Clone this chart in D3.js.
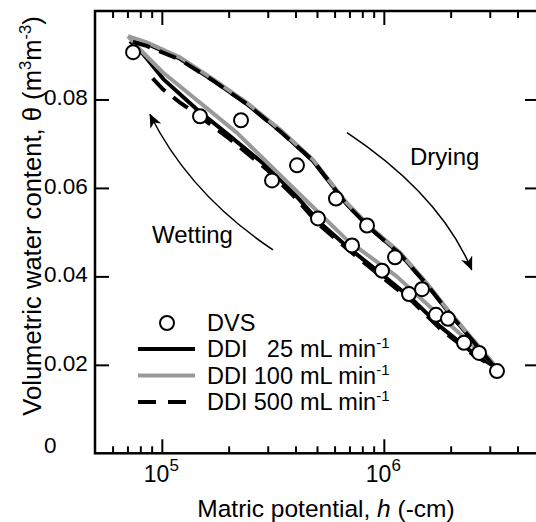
<!DOCTYPE html>
<html>
<head>
<meta charset="utf-8">
<script src="https://cdn.jsdelivr.net/npm/d3@7"></script>
<style>
body { margin: 0; background: #fff; }
text { font-family: "Liberation Sans", Arial, Helvetica, sans-serif; fill: #000; }
</style>
</head>
<body>
<div class="chart"></div>
<script>
// DVS points
const dvsH = [74200, 148600, 227300, 313600, 406300, 505100, 608800, 719000, 840100, 981300, 1123000, 1298000, 1486000, 1718000, 1945000, 2297000, 2684000, 3234000];
const dvsTheta = [0.0907, 0.0762, 0.0753, 0.0617, 0.0651, 0.0531, 0.0576, 0.0470, 0.0515, 0.0413, 0.0443, 0.0360, 0.0371, 0.0313, 0.0304, 0.0250, 0.0227, 0.0186];

// DDI 25 mL/min (black solid)
const d25DryH = [71900, 85500, 120800, 170000, 241200, 340700, 479700, 680500, 894000, 1183000, 1560000, 1987000, 2521000, 3236000];
const d25DryT = [0.0932, 0.0926, 0.0892, 0.0843, 0.0790, 0.0729, 0.0661, 0.0563, 0.0503, 0.0451, 0.0382, 0.0315, 0.0254, 0.0192];
const d25WetH = [3236000, 2521000, 1791000, 1353000, 960800, 680500, 515800, 389900, 296800, 202800, 143600, 101600, 82530, 71900];
const d25WetT = [0.0192, 0.0227, 0.0287, 0.0347, 0.0408, 0.0468, 0.0521, 0.0590, 0.0649, 0.0717, 0.0778, 0.0846, 0.0902, 0.0932];

// DDI 100 mL/min (grey)
const d100DryH = [70400, 85500, 120800, 170000, 241200, 340700, 479700, 680500, 894000, 1183000, 1560000, 1987000, 2521000, 3236000];
const d100DryT = [0.0943, 0.0929, 0.0895, 0.0846, 0.0793, 0.0732, 0.0664, 0.0566, 0.0506, 0.0454, 0.0385, 0.0318, 0.0257, 0.0193];
const d100WetH = [3236000, 2274000, 1665000, 1143000, 680500, 419100, 217500, 101200, 79740, 70400];
const d100WetT = [0.0193, 0.0264, 0.0325, 0.0400, 0.0483, 0.0585, 0.0725, 0.0861, 0.0913, 0.0943];

// DDI 500 mL/min (black dashed)
const d500DryH = [74000, 85500, 120800, 170000, 241200, 340700, 479700, 680500, 894000, 1183000, 1560000, 1987000, 2521000, 3150000];
const d500DryT = [0.0930, 0.0921, 0.0890, 0.0843, 0.0790, 0.0728, 0.0662, 0.0562, 0.0503, 0.0450, 0.0382, 0.0315, 0.0254, 0.0195];
const d500WetH = [3150000, 2521000, 1791000, 1353000, 960800, 680500, 515800, 389900, 296800, 202800, 144100, 120800, 101200, 85760];
const d500WetT = [0.0195, 0.0223, 0.0282, 0.0342, 0.0402, 0.0463, 0.0515, 0.0583, 0.0642, 0.0710, 0.0766, 0.0793, 0.0823, 0.0861];

const xMajor = [1e5, 1e6];
const xMajorExp = ["5", "6"];
const xMinor = [6e4, 7e4, 8e4, 9e4, 2e5, 3e5, 4e5, 5e5, 6e5, 7e5, 8e5, 9e5, 2e6, 3e6, 4e6];
const yTicks = [0, 0.02, 0.04, 0.06, 0.08];
const yLabels = ["0", "0.02", "0.04", "0.06", "0.08"];

const w = 536, h = 522;
const padL = 95, padR = 539, padT = 11, padB = 453.3;

let svg = d3.select(".chart").append("svg")
    .attr("width", w)
    .attr("height", h);

let x = d3.scaleLog().domain([5e4, 5e6]).range([padL, padR]);
let y = d3.scaleLinear().domain([0, 0.1]).range([padB, padT]);

// frame
svg.append("rect")
    .attr("x", padL).attr("y", padT)
    .attr("width", padR - padL).attr("height", padB - padT)
    .attr("fill", "none").attr("stroke", "#000").attr("stroke-width", 2.5);

let styleAxis = (g) => {
    g.select(".domain").remove();
    g.selectAll(".tick line").attr("stroke", "#000").attr("stroke-width", 2);
    g.selectAll(".tick text").remove();
};

svg.append("g").attr("transform", "translate(0," + padB + ")")
    .call(d3.axisBottom(x).tickValues(xMajor).tickSize(-14)).call(styleAxis);
svg.append("g").attr("transform", "translate(0," + padB + ")")
    .call(d3.axisBottom(x).tickValues(xMinor).tickSize(-7)).call(styleAxis);
svg.append("g").attr("transform", "translate(0," + padT + ")")
    .call(d3.axisTop(x).tickValues(xMajor).tickSize(-14)).call(styleAxis);
svg.append("g").attr("transform", "translate(0," + padT + ")")
    .call(d3.axisTop(x).tickValues(xMinor).tickSize(-7)).call(styleAxis);
svg.append("g").attr("transform", "translate(" + padL + ",0)")
    .call(d3.axisLeft(y).tickValues(yTicks.slice(1)).tickSize(-14)).call(styleAxis);
svg.append("g").attr("transform", "translate(" + padR + ",0)")
    .call(d3.axisRight(y).tickValues(yTicks.slice(1)).tickSize(-14)).call(styleAxis);

// y tick labels (left aligned)
svg.selectAll(".ylab").data(yTicks).enter().append("text")
    .attr("class", "ylab")
    .attr("x", 44)
    .attr("y", (d) => d === 0 ? y(d) : y(d) + 6)
    .attr("font-size", 22.5)
    .text((d, i) => yLabels[i]);

// x tick labels 10^n
xMajor.forEach((v, i) => {
    let t = svg.append("text")
        .attr("x", x(v) - 18)
        .attr("y", 482)
        .attr("font-size", 23);
    t.append("tspan").text("10");
    t.append("tspan").attr("dy", -11).attr("font-size", 17).text(xMajorExp[i]);
});

// axis titles
let xt = svg.append("text")
    .attr("x", 326).attr("y", 517)
    .attr("text-anchor", "middle")
    .attr("font-size", 24.5);
xt.append("tspan").text("Matric potential, ");
xt.append("tspan").attr("font-style", "italic").text("h");
xt.append("tspan").text(" (-cm)");

let yt = svg.append("text")
    .attr("transform", "translate(41,216) rotate(-90)")
    .attr("text-anchor", "middle")
    .attr("font-size", 25.6);
yt.append("tspan").text("Volumetric water content, \u03b8 (m");
yt.append("tspan").attr("dy", -10).attr("font-size", 16.5).text("3");
yt.append("tspan").attr("dy", 10).text("m");
yt.append("tspan").attr("dy", -10).attr("font-size", 16.5).text("-3");
yt.append("tspan").attr("dy", 10).text(")");

// curves
let line = d3.line().x((d) => x(d[0])).y((d) => y(d[1]));
let loop = (dh, dt, wh, wt) => dh.map((v, i) => [v, dt[i]]).concat(wh.map((v, i) => [v, wt[i]]));

svg.append("path")
    .datum(loop(d25DryH, d25DryT, d25WetH, d25WetT))
    .attr("d", line)
    .attr("fill", "none").attr("stroke", "#000").attr("stroke-width", 4)
    .attr("stroke-linejoin", "round");
svg.append("path")
    .datum(loop(d100DryH, d100DryT, d100WetH, d100WetT))
    .attr("d", line)
    .attr("fill", "none").attr("stroke", "#999").attr("stroke-width", 4)
    .attr("stroke-linejoin", "round");
svg.append("path")
    .datum(loop(d500DryH, d500DryT, d500WetH, d500WetT))
    .attr("d", line)
    .attr("fill", "none").attr("stroke", "#000").attr("stroke-width", 4)
    .attr("stroke-dasharray", "18,10");

// DVS circles
svg.selectAll(".dot").data(dvsH).enter().append("circle")
    .attr("class", "dot")
    .attr("cx", (d) => x(d))
    .attr("cy", (d, i) => y(dvsTheta[i]))
    .attr("r", 7)
    .attr("fill", "#fff").attr("stroke", "#000").attr("stroke-width", 2);

// arrows
svg.append("defs").append("marker")
    .attr("id", "head")
    .attr("viewBox", "0 0 14 12")
    .attr("refX", 13).attr("refY", 6)
    .attr("markerWidth", 14).attr("markerHeight", 12)
    .attr("markerUnits", "userSpaceOnUse")
    .attr("orient", "auto")
    .append("path").attr("d", "M0,0 L14,6 L0,12 L4,6 Z").attr("fill", "#000");

let arrow = (p0, c, p1) => {
    let path = d3.path();
    path.moveTo(x(p0[0]), y(p0[1]));
    path.quadraticCurveTo(x(c[0]), y(c[1]), x(p1[0]), y(p1[1]));
    svg.append("path").attr("d", path.toString())
        .attr("fill", "none").attr("stroke", "#000").attr("stroke-width", 1.5)
        .attr("marker-end", "url(#head)");
};
arrow([682600, 0.0725], [1791000, 0.0585], [2488000, 0.0415]);
arrow([316800, 0.0460], [133900, 0.0585], [88470, 0.0766]);

svg.append("text").attr("x", x(1312000)).attr("y", y(0.0651)).attr("font-size", 24).text("Drying");
svg.append("text").attr("x", x(90300)).attr("y", y(0.0476)).attr("font-size", 24).text("Wetting");

// legend
let lg = svg.append("g").attr("id", "legend");
lg.append("circle").attr("cx", 167).attr("cy", 323).attr("r", 7)
    .attr("fill", "#fff").attr("stroke", "#000").attr("stroke-width", 2);
lg.append("text").attr("x", 207).attr("y", 331).attr("font-size", 23.5).text("DVS");
const legRows = [
    {rate: "25", color: "#000", dash: null},
    {rate: "100", color: "#999", dash: null},
    {rate: "500", color: "#000", dash: "18,12"}
];
legRows.forEach((r, i) => {
    let ly = 349 + i * 26.5;
    let l = lg.append("line").attr("x1", 138).attr("x2", 195).attr("y1", ly).attr("y2", ly)
        .attr("stroke", r.color).attr("stroke-width", 4);
    if (r.dash) l.attr("stroke-dasharray", r.dash);
    lg.append("text").attr("x", 207).attr("y", ly + 8).attr("font-size", 23.5).text("DDI");
    lg.append("text").attr("x", 293).attr("y", ly + 8).attr("font-size", 23.5)
        .attr("text-anchor", "end").text(r.rate);
    let t = lg.append("text").attr("x", 300).attr("y", ly + 8).attr("font-size", 23.5);
    t.append("tspan").text("mL min");
    t.append("tspan").attr("dy", -9).attr("font-size", 15).text("-1");
});
</script>
</body>
</html>
